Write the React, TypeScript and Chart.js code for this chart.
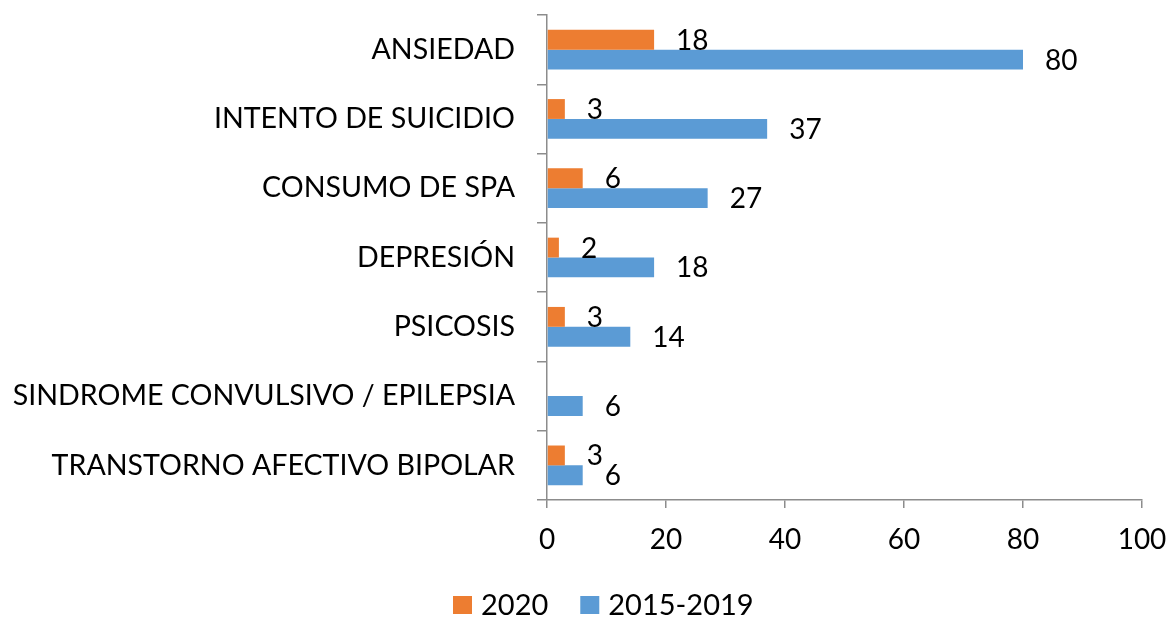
import React, { useEffect, useRef } from "react";
import { Chart, registerables } from "chart.js";

Chart.register(...registerables);

const categories = [
  "ANSIEDAD",
  "INTENTO DE SUICIDIO",
  "CONSUMO DE SPA",
  "DEPRESIÓN",
  "PSICOSIS",
  "SINDROME CONVULSIVO / EPILEPSIA",
  "TRANSTORNO AFECTIVO BIPOLAR",
];
const values2020: (number | null)[] = [18, 3, 6, 2, 3, null, 3];
const values2015_2019: number[] = [80, 37, 27, 18, 14, 6, 6];
const seriesNames = ["2020", "2015-2019"];
const xTicks = [0, 20, 40, 60, 80, 100];

const FONT = "Lato";
const AXIS_COLOR = "#8c8c8c";

const labelPlugin = {
  id: "valueLabels",
  afterDatasetsDraw(chart: any) {
    const ctx = chart.ctx;
    ctx.save();
    ctx.font = `28px ${FONT}`;
    ctx.fillStyle = "#000";
    ctx.textAlign = "left";
    ctx.textBaseline = "middle";
    chart.data.datasets.forEach((ds: any, di: number) => {
      const meta = chart.getDatasetMeta(di);
      meta.data.forEach((el: any, i: number) => {
        const v = ds.data[i];
        if (v === null || v === undefined) return;
        ctx.fillText(String(v), el.x + 22, el.y + 1);
      });
    });
    ctx.restore();
  },
};

const legendPlugin = {
  id: "customLegend",
  afterDraw(chart: any) {
    const ctx = chart.ctx;
    ctx.save();
    ctx.font = `29px ${FONT}`;
    ctx.textBaseline = "middle";
    ctx.textAlign = "left";
    const cy = 606;
    const box = 18;
    let x = 453;
    chart.data.datasets.forEach((ds: any) => {
      ctx.fillStyle = ds.backgroundColor;
      ctx.fillRect(x, cy - box / 2 - 1, box + 1, box);
      x += box + 10;
      ctx.fillStyle = "#000";
      ctx.fillText(ds.label, x, cy);
      x += ctx.measureText(ds.label).width + 32;
    });
    ctx.restore();
  },
};

export default function App() {
  const ref = useRef<HTMLCanvasElement>(null);
  useEffect(() => {
    document.body.style.margin = "0";
    const chart = new Chart(ref.current!, {
      type: "bar",
      data: {
        labels: categories,
        datasets: [
          {
            label: seriesNames[0],
            data: values2020,
            backgroundColor: "#ED7D31",
            categoryPercentage: 0.573,
            barPercentage: 1,
          },
          {
            label: seriesNames[1],
            data: values2015_2019,
            backgroundColor: "#5B9BD5",
            categoryPercentage: 0.573,
            barPercentage: 1,
          },
        ],
      },
      options: {
        indexAxis: "y",
        animation: false,
        responsive: false,
        maintainAspectRatio: false,
        layout: { padding: { left: 0, right: 31, top: 15, bottom: 48 } },
        plugins: {
          tooltip: { enabled: false },
          legend: { display: false },
        },
        scales: {
          x: {
            min: 0,
            max: 100,
            afterBuildTicks: (scale: any) => {
              scale.ticks = xTicks.map((v) => ({ value: v }));
            },
            border: { display: true, color: AXIS_COLOR, width: 1.5 },
            grid: {
              drawOnChartArea: false,
              drawTicks: true,
              tickLength: 8,
              color: AXIS_COLOR,
              lineWidth: 1.5,
            },
            ticks: {
              font: { family: FONT, size: 28 },
              color: "#000",
              padding: 15,
            },
            afterFit: (scale: any) => {
              scale.height = 70;
              scale.paddingLeft = 0;
              scale.paddingRight = 0;
            },
          },
          y: {
            border: { display: true, color: AXIS_COLOR, width: 1.5 },
            grid: {
              drawOnChartArea: false,
              drawTicks: true,
              tickLength: 10,
              color: AXIS_COLOR,
              lineWidth: 1.5,
            },
            ticks: {
              font: { family: FONT, size: 28.6 },
              color: "#000",
              padding: 22,
            },
            afterFit: (scale: any) => {
              scale.width = 547;
              scale.paddingTop = 0;
              scale.paddingBottom = 0;
            },
          },
        },
      },
      plugins: [labelPlugin, legendPlugin],
    });
    return () => chart.destroy();
  }, []);
  return (
    <div style={{ width: 1173, height: 618 }}>
      <canvas ref={ref} width={1173} height={618} />
    </div>
  );
}
